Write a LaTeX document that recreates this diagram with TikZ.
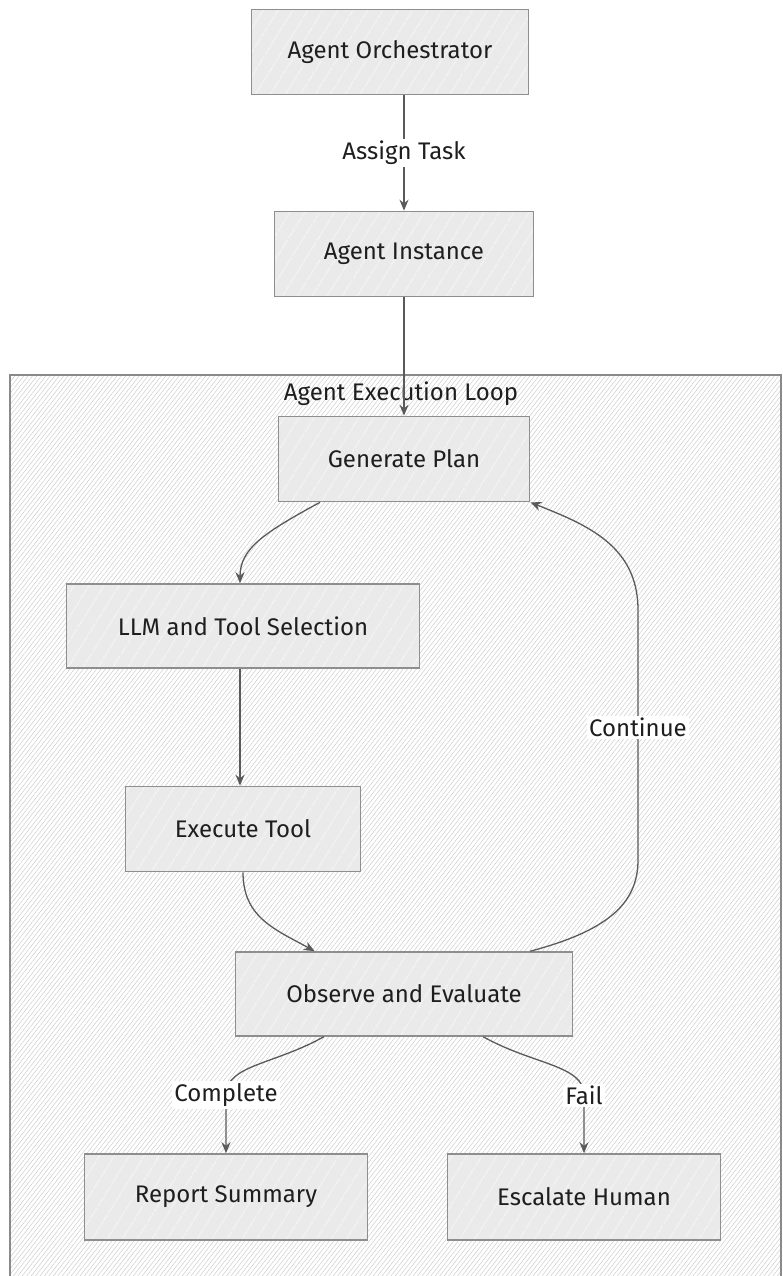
\documentclass[tikz,border=0pt]{standalone}
\usepackage{fontspec}
\setmainfont{Fira Sans}
\usetikzlibrary{patterns.meta,arrows.meta,calc}
\definecolor{boxfill}{HTML}{EAEAEA}
\definecolor{boxline}{HTML}{8E8E8E}
\definecolor{edgecol}{HTML}{5A5A5A}
\definecolor{txt}{HTML}{1E1E1E}
\definecolor{frameline}{HTML}{8A8A8A}
\begin{document}
\begin{tikzpicture}[x=1pt,y=-1pt,
  stepbox/.style={draw=boxline, line width=1.6pt,
    preaction={fill=boxfill},
    preaction={pattern={Lines[angle=58,distance=13pt,line width=0.8pt]}, pattern color=white},
    text=txt, font=\fontsize{24}{28}\selectfont, minimum height=85pt, inner sep=0pt},
  arr/.style={draw=edgecol, line width=1.3pt, -{Stealth[length=11pt,width=9pt]}},
  lbl/.style={fill=white, text=txt, font=\fontsize{24}{28}\selectfont, inner sep=2pt},
]
\useasboundingbox (0,0) rectangle (782,1276);
\fill[white] (0,0) rectangle (782,1276);

% execution loop frame with fine hatching
\fill[white] (10,375) rectangle (781,1290);
\path[pattern={Lines[angle=52,distance=3.5pt,line width=0.4pt]}, pattern color=gray!45] (10,375) rectangle (781,1290);
\draw[frameline, line width=1.5pt] (10,1290) -- (10,375) -- (781,375) -- (781,1290);
\node[text=txt, font=\fontsize{24}{28}\selectfont] (looptitle) at (401,394) {Agent Execution Loop};

% steps
\node[stepbox, minimum width=277pt] (orch) at (390,52) {Agent Orchestrator};
\node[stepbox, minimum width=259pt] (inst) at (404,254) {Agent Instance};
\node[stepbox, minimum width=251pt] (plan) at (404,459) {Generate Plan};
\node[stepbox, minimum width=353pt, minimum height=84pt] (llm) at (243,626) {LLM and Tool Selection};
\node[stepbox, minimum width=235pt] (exec) at (243,829) {Execute Tool};
\node[stepbox, minimum width=337pt, minimum height=84pt] (obs) at (404,994) {Observe and Evaluate};
\node[stepbox, minimum width=283pt, minimum height=86pt] (rep) at (226,1197) {Report Summary};
\node[stepbox, minimum width=273pt, minimum height=86pt] (esc) at (584,1197) {Escalate Human};

% connectors
\draw[arr] (orch.south -| inst.north) -- node[lbl]{Assign Task} (inst.north);
\draw[arr] (inst.south) -- (plan.north);
\draw[arr] ($(plan.south)+(-84,0)$) .. controls +(-55,30) and +(0,-35) .. ($(llm.north)+(-3,0)$);
\draw[arr] ($(llm.south)+(-3,0)$) -- ($(exec.north)+(-3,0)$);
\draw[arr] (exec.south) .. controls +(0,45) and +(-40,-22) .. ($(obs.north west)+(80,0)$);
\draw[arr] ($(obs.north east)+(-43,0)$) .. controls +(75,-20) and +(0,45) .. (638,860)
  -- (638,727) node[lbl]{Continue} -- (638,610)
  .. controls +(0,-65) and +(55,22) .. (plan.south east);
\draw[arr] ($(obs.south west)+(89,0)$) .. controls +(-50,28) and +(0,-30) .. (226,1095)
  node[lbl]{Complete} -- (rep.north);
\draw[arr] ($(obs.south east)+(-90,0)$) .. controls +(50,28) and +(0,-30) .. (584,1095)
  node[lbl]{Fail} -- (esc.north);
\end{tikzpicture}
\end{document}
